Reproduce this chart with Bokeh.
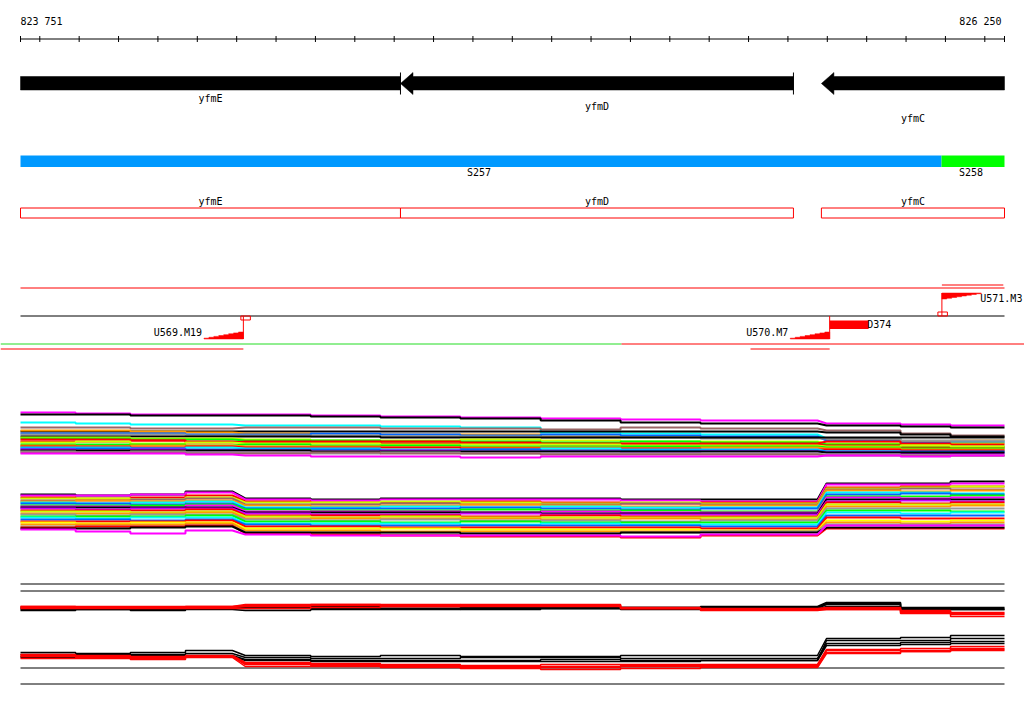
from bokeh.plotting import figure
from bokeh.models import Range1d, ColumnDataSource
from bokeh.core.properties import value
from bokeh.embed import file_html
from bokeh.resources import INLINE

# ------------------------------------------------------------------ data
VIEW_START = 823751
VIEW_END = 826250
ruler_labels = ["823 751", "826 250"]

gene_names = ["yfmE", "yfmD", "yfmC"]
gene_starts = [823200, 824716, 825785]
gene_ends = [824716, 825714, 826700]
gene_strands = ["-", "-", "-"]

segment_names = ["S257", "S258"]
segment_starts = [823300, 826090]
segment_ends = [826090, 826700]
segment_colors = ["#0099FF", "#00FF00"]

feature_names = ["U569.M19", "U570.M7", "U571.M3"]
feature_pos = [824317, 825806, 826091]
feature_strands = ["+", "+", "-"]
feature_has_box = [True, False, True]
feature_extent_start = [823500, 825605, 826091]
feature_extent_end = [824317, 825806, 826247]

deletion_names = ["D374"]
deletion_starts = [825806]
deletion_ends = [825905]

# probe segments used by the expression tracks
probe_starts = [823751, 823891, 824030, 824170, 824322, 824488, 824665,
                824868, 825072, 825275, 825478, 825798, 825986, 826113]
probe_ends = [823891, 824030, 824170, 824289, 824488, 824665, 824868,
              825072, 825275, 825478, 825775, 825986, 826113, 826250]

# track 1 (signal levels)
t1_01 = [48, 47, 46, 46, 46, 45, 44, 43, 42, 41, 40, 37, 36, 35]
t1_02 = [46, 46, 45, 45, 45, 44, 43, 42, 40, 38, 37, 35, 34, 33]
t1_03 = [38, 37, 36, 36, 35, 35, 34, 33, 28, 27, 26, 22, 19, 19]
t1_04 = [33, 33, 32, 32, 33, 33, 32, 32, 31, 33, 32, 30, 27, 25]
t1_05 = [29, 29, 29, 29, 29, 29, 29, 29, 29, 29, 29, 28, 26, 24]
t1_06 = [30, 30, 29, 28, 27, 27, 26, 26, 24, 24, 23, 21, 19, 20]
t1_07 = [27, 27, 27, 26, 26, 27, 26, 25, 26, 25, 24, 20, 18, 18]
t1_08 = [26, 26, 26, 25, 25, 24, 24, 24, 23, 23, 22, 22, 20, 20]
t1_09 = [24, 24, 24, 24, 24, 24, 23, 23, 23, 23, 23, 23, 23, 23]
t1_10 = [23, 23, 22, 22, 21, 20, 20, 21, 20, 19, 19, 17, 16, 17]
t1_11 = [22, 22, 21, 21, 20, 20, 19, 19, 18, 19, 18, 16, 14, 14]
t1_12 = [21, 21, 20, 19, 18, 19, 17, 17, 16, 16, 17, 19, 17, 16]
t1_13 = [19, 19, 20, 18, 19, 18, 19, 18, 17, 17, 16, 15, 13, 13]
t1_14 = [18, 19, 17, 18, 17, 17, 16, 16, 16, 15, 15, 14, 15, 14]
t1_15 = [16, 16, 16, 15, 16, 15, 15, 14, 14, 14, 14, 13, 12, 12]
t1_16 = [15, 14, 15, 15, 14, 14, 13, 13, 13, 12, 13, 12, 11, 11]
t1_17 = [14, 14, 13, 14, 13, 13, 13, 12, 12, 12, 11, 11, 10, 10]
t1_18 = [13, 13, 12, 13, 12, 12, 11, 11, 12, 11, 11, 9, 8, 8]
t1_19 = [12, 12, 12, 11, 11, 11, 10, 11, 10, 10, 10, 9, 9, 9]
t1_20 = [11, 10, 11, 10, 10, 9, 10, 9, 9, 8, 9, 8, 7, 7]
t1_21 = [10, 10, 10, 10, 10, 9, 9, 9, 9, 9, 9, 8, 8, 8]
t1_22 = [9, 8, 9, 8, 8, 7, 8, 7, 7, 7, 7, 6, 5, 5]
t1_23 = [8, 8, 8, 7, 7, 8, 7, 7, 6, 6, 6, 5, 5, 5]
t1_24 = [7, 7, 7, 6, 5, 4, 4, 3, 4, 4, 4, 5, 4, 5]
track1_series = [t1_01, t1_02, t1_03, t1_04, t1_05, t1_06, t1_07, t1_08,
                 t1_09, t1_10, t1_11, t1_12, t1_13, t1_14, t1_15, t1_16,
                 t1_17, t1_18, t1_19, t1_20, t1_21, t1_22, t1_23, t1_24]
track1_colors = ["#FF00FF", "#000000", "#00FFFF", "#996666", "#000000",
                 "#FF9900", "#0066FF", "#999999", "#000000", "#CCFF00",
                 "#00FF00", "#FF0000", "#FF0000", "#CCFF00", "#00FF00",
                 "#FF9900", "#FF0000", "#00FFFF", "#0066FF", "#CC00FF",
                 "#000000", "#999999", "#996666", "#FF00FF"]

# track 2 (signal levels)
t2_01 = [46, 45, 46, 49, 42, 41, 42, 42, 42, 41, 41, 57, 57, 59]
t2_02 = [45, 45, 46, 48, 41, 40, 41, 41, 41, 40, 39, 56, 56, 57]
t2_03 = [43, 42, 43, 45, 39, 38, 38, 39, 38, 37, 38, 53, 54, 54]
t2_04 = [42, 42, 41, 43, 38, 38, 39, 38, 37, 38, 37, 52, 53, 54]
t2_05 = [40, 40, 41, 42, 36, 36, 37, 36, 36, 37, 36, 51, 52, 51]
t2_06 = [39, 40, 39, 40, 35, 34, 35, 36, 35, 34, 35, 50, 49, 50]
t2_07 = [38, 37, 38, 39, 33, 33, 34, 33, 34, 33, 33, 48, 48, 47]
t2_08 = [37, 37, 36, 37, 32, 32, 32, 33, 32, 31, 32, 46, 47, 46]
t2_09 = [35, 35, 35, 36, 31, 30, 30, 31, 30, 30, 29, 44, 44, 45]
t2_10 = [34, 34, 33, 35, 29, 29, 29, 28, 29, 28, 28, 43, 42, 43]
t2_11 = [33, 33, 33, 33, 28, 28, 28, 28, 27, 27, 27, 41, 41, 41]
t2_12 = [32, 31, 32, 32, 27, 26, 26, 27, 26, 26, 26, 39, 40, 39]
t2_13 = [30, 30, 30, 31, 25, 25, 25, 24, 25, 24, 24, 38, 37, 38]
t2_14 = [29, 29, 28, 29, 24, 23, 24, 23, 23, 23, 23, 36, 36, 36]
t2_15 = [27, 27, 27, 28, 22, 22, 22, 22, 21, 22, 21, 34, 34, 35]
t2_16 = [26, 25, 26, 26, 21, 20, 21, 20, 20, 19, 20, 32, 32, 32]
t2_17 = [24, 24, 24, 25, 19, 19, 18, 19, 18, 18, 18, 30, 30, 29]
t2_18 = [23, 22, 23, 23, 17, 17, 17, 16, 17, 16, 16, 28, 27, 28]
t2_19 = [21, 21, 20, 21, 16, 15, 15, 15, 15, 15, 14, 25, 25, 25]
t2_20 = [19, 19, 19, 20, 14, 14, 13, 13, 13, 13, 12, 23, 22, 22]
t2_21 = [18, 17, 18, 18, 12, 12, 12, 11, 11, 11, 10, 20, 19, 20]
t2_22 = [16, 16, 16, 17, 10, 10, 9, 9, 9, 9, 9, 18, 17, 18]
t2_23 = [14, 14, 14, 15, 8, 7, 6, 7, 7, 8, 9, 16, 16, 16]
t2_24 = [13, 14, 14, 15, 7, 6, 5, 4, 4, 3, 5, 12, 12, 12]
t2_25 = [12, 12, 13, 14, 8, 8, 8, 7, 7, 8, 8, 13, 13, 13]
t2_26 = [11, 9, 7, 10, 6, 5, 5, 5, 5, 4, 6, 15, 15, 15]
track2_series = [t2_01, t2_02, t2_03, t2_04, t2_05, t2_06, t2_07, t2_08,
                 t2_09, t2_10, t2_11, t2_12, t2_13, t2_14, t2_15, t2_16,
                 t2_17, t2_18, t2_19, t2_20, t2_21, t2_22, t2_23, t2_24,
                 t2_25, t2_26]
track2_colors = ["#000000", "#FF00FF", "#FF0000", "#CCFF00", "#996666",
                 "#FF9900", "#00FFFF", "#0066FF", "#00FF00", "#FF00FF",
                 "#000000", "#CC00FF", "#FF0000", "#CCFF00", "#FF9900",
                 "#999999", "#00FF00", "#00FFFF", "#0066FF", "#FF0000",
                 "#FFFF00", "#FF9900", "#999999", "#FF0000", "#000000",
                 "#FF00FF"]

# track 3 (two groups: black and red series)
t3_black_1 = [76, 76, 76, 76, 78, 78, 77, 77, 76, 76, 77, 81, 76, 76]
t3_black_2 = [75, 75, 75, 75, 76, 77, 77, 76, 75, 76, 76, 80, 75, 75]
t3_black_3 = [74, 74, 74, 75, 75, 75, 75, 74, 75, 75, 75, 79, 75, 74]
t3_black_4 = [73, 74, 73, 74, 73, 74, 74, 75, 75, 74, 74, 77, 74, 74]
t3_red_1 = [77, 77, 77, 77, 79, 79, 78, 79, 79, 76, 75, 76, 73, 71]
t3_red_2 = [76, 76, 76, 77, 78, 79, 77, 78, 78, 75, 74, 75, 71, 69]
t3_red_3 = [75, 75, 75, 75, 75, 76, 77, 77, 77, 75, 74, 74, 70, 67]
t3_red_4 = [77, 76, 76, 76, 77, 78, 79, 78, 78, 75, 73, 74, 72, 70]
t3_black_5 = [31, 30, 31, 33, 28, 27, 28, 27, 27, 28, 28, 45, 46, 48]
t3_black_6 = [29, 29, 29, 30, 26, 25, 25, 26, 26, 25, 25, 40, 41, 42]
t3_black_7 = [27, 28, 28, 28, 24, 23, 23, 23, 24, 23, 23, 38, 39, 40]
t3_black_8 = [26, 26, 27, 27, 23, 22, 22, 22, 22, 22, 23, 43, 43, 45]
t3_red_5 = [29, 28, 27, 28, 21, 20, 19, 18, 19, 19, 19, 34, 35, 37]
t3_red_6 = [27, 26, 25, 27, 19, 18, 18, 17, 17, 18, 18, 33, 33, 35]
t3_red_7 = [25, 25, 24, 26, 17, 17, 16, 16, 16, 17, 16, 30, 32, 33]
t3_red_8 = [28, 27, 26, 27, 20, 19, 17, 15, 14, 15, 17, 31, 32, 34]
track3_black = [t3_black_1, t3_black_2, t3_black_3, t3_black_4,
                t3_black_5, t3_black_6, t3_black_7, t3_black_8]
track3_red = [t3_red_1, t3_red_2, t3_red_3, t3_red_4,
              t3_red_5, t3_red_6, t3_red_7, t3_red_8]
track3_reference_levels = [100, 93, 16, 0]

# ------------------------------------------------------------------ layout
PX_LEFT, PX_RIGHT = 20, 1004          # page pixels of the view ends
FIG_W, FIG_H, MARGIN = 1024, 706, 0
BP_PER_PX = (VIEW_END - VIEW_START) / (PX_RIGHT - PX_LEFT)
x0 = VIEW_START - (PX_LEFT - MARGIN) * BP_PER_PX
x1 = x0 + FIG_W * BP_PER_PX

FONT = value("DejaVu Sans Mono")
FS = "10px"

p = figure(width=FIG_W, height=FIG_H,
           x_range=Range1d(x0, x1), y_range=Range1d(MARGIN + FIG_H, MARGIN),
           output_backend="svg", toolbar_location=None, min_border=0,
           x_axis_location=None, y_axis_location=None,
           outline_line_color=None, background_fill_color="white",
           border_fill_color="white")
p.xgrid.visible = False
p.ygrid.visible = False


def clip(a, b):
    return max(a, VIEW_START), min(b, VIEW_END)


def txt(xs, ys, texts, align="center", color="black"):
    p.text(x=xs, y=ys, text=texts, text_font=FONT, text_font_size=FS,
           text_align=align, text_baseline="middle", text_color=color)


# ruler
RULER_Y = 38.5
p.segment(x0=[VIEW_START], y0=[RULER_Y], x1=[VIEW_END], y1=[RULER_Y],
          line_color="black", line_width=1)
tick_pos = [VIEW_START] + [t for t in range(((VIEW_START // 100) + 1) * 100, VIEW_END, 100)] + [VIEW_END]
p.segment(x0=tick_pos, y0=[RULER_Y - 3] * len(tick_pos), x1=tick_pos,
          y1=[RULER_Y + 3] * len(tick_pos), line_color="black", line_width=1)
txt([VIEW_START], [20.5], [ruler_labels[0]], align="left")
txt([VIEW_END - 3 * BP_PER_PX], [20.5], [ruler_labels[1]], align="right")

# gene arrows
BAR_T, BAR_B, HEAD_T, HEAD_B = 76, 89.5, 72, 94
HEAD_LEN = 12.5 * BP_PER_PX
label_rows = [98, 106, 118]
xs_g, ys_g = [], []
for name, s, e, strand, ly in zip(gene_names, gene_starts, gene_ends, gene_strands, label_rows):
    cs, ce = clip(s, e)
    mid_y = (HEAD_T + HEAD_B) / 2
    if strand == "-" and s >= VIEW_START:
        hx = s + HEAD_LEN
        xs_g.append([s, hx, hx, ce, ce, hx, hx])
        ys_g.append([mid_y, HEAD_T, BAR_T, BAR_T, BAR_B, BAR_B, HEAD_B])
    else:
        xs_g.append([cs, ce, ce, cs])
        ys_g.append([BAR_T, BAR_T, BAR_B, BAR_B])
    if e <= VIEW_END:
        p.segment(x0=[e], y0=[HEAD_T], x1=[e], y1=[HEAD_B], line_color="black", line_width=1)
    txt([(cs + ce) / 2], [ly], [name])
p.patches(xs=xs_g, ys=ys_g, fill_color="black", line_color="black", line_width=0.5)

# segments
for name, s, e, c in zip(segment_names, segment_starts, segment_ends, segment_colors):
    cs, ce = clip(s, e)
    p.quad(left=[cs], right=[ce], top=[155], bottom=[166.5], fill_color=c, line_color=None)
    txt([(cs + ce) / 2 - 2 * BP_PER_PX], [172], [name])

# gene boxes
for name, s, e in zip(gene_names, gene_starts, gene_ends):
    cs, ce = clip(s, e)
    p.quad(left=[cs], right=[ce], top=[207.5], bottom=[217.5], fill_color=None,
           line_color="#FF0000", line_width=1)
    txt([(cs + ce) / 2], [200.5], [name])

# feature track
TOP_LINE, MID_LINE, SEP_LINE = 287.5, 315.5, 343.5
p.segment(x0=[VIEW_START], y0=[TOP_LINE], x1=[VIEW_END], y1=[TOP_LINE], line_color="#FF0000", line_width=1)
p.segment(x0=[VIEW_START], y0=[MID_LINE], x1=[VIEW_END], y1=[MID_LINE], line_color="black", line_width=1)
sep_split = VIEW_START + (621 - PX_LEFT) * BP_PER_PX
p.segment(x0=[x0], y0=[SEP_LINE], x1=[sep_split], y1=[SEP_LINE], line_color="#22DD22", line_width=1)
p.segment(x0=[sep_split], y0=[SEP_LINE], x1=[x1], y1=[SEP_LINE], line_color="#FF0000", line_width=1)

RAMP_LEN = 100
STEPS = 8
for name, pos, strand, box, es, ee in zip(feature_names, feature_pos, feature_strands,
                                          feature_has_box, feature_extent_start, feature_extent_end):
    if strand == "+":
        base = 338.5
        r0 = pos - RAMP_LEN
        rx, ry = [r0], [base]
        for k in range(STEPS):
            h = (k + 1) * 7.0 / STEPS
            rx += [r0 + k * RAMP_LEN / STEPS, r0 + (k + 1) * RAMP_LEN / STEPS]
            ry += [base - h, base - h]
        rx += [pos]
        ry += [base]
        p.segment(x0=[pos], y0=[MID_LINE], x1=[pos], y1=[base], line_color="#FF0000", line_width=1)
        if box:
            p.quad(left=[pos - 2.5 * BP_PER_PX], right=[pos + 7 * BP_PER_PX], top=[MID_LINE], bottom=[MID_LINE + 4],
                   fill_color=None, line_color="#FF0000", line_width=1)
        txt([r0 - 2 * BP_PER_PX], [331.5], [name], align="right")
        ext_y = 348.5
    else:
        top = 292.5
        r1 = pos + RAMP_LEN
        rx, ry = [pos], [top]
        for k in range(STEPS):
            h = (STEPS - k) * 6.0 / STEPS
            rx += [pos + k * RAMP_LEN / STEPS, pos + (k + 1) * RAMP_LEN / STEPS]
            ry += [top + h, top + h]
        rx += [r1]
        ry += [top]
        p.segment(x0=[pos], y0=[MID_LINE], x1=[pos], y1=[top], line_color="#FF0000", line_width=1)
        if box:
            p.quad(left=[pos - 4 * BP_PER_PX], right=[pos + 5.5 * BP_PER_PX], top=[MID_LINE - 4], bottom=[MID_LINE],
                   fill_color=None, line_color="#FF0000", line_width=1)
        txt([r1 - 1 * BP_PER_PX], [297.5], [name], align="left")
        ext_y = 284.5
    p.patch(x=rx, y=ry, fill_color="#FF0000", line_color="#FF0000", line_width=0.5)
    es_c = max(es, x0)
    p.segment(x0=[es_c], y0=[ext_y], x1=[ee], y1=[ext_y], line_color="#FF0000", line_width=1)

for name, s, e in zip(deletion_names, deletion_starts, deletion_ends):
    p.quad(left=[s], right=[e], top=[320], bottom=[328.5], fill_color="#FF0000", line_color=None)
    txt([e - 1.5 * BP_PER_PX], [324], [name], align="left")


# expression tracks
def step_path(vals, base_y):
    xs, ys = [], []
    for s, e, v in zip(probe_starts, probe_ends, vals):
        xs += [s, e]
        ys += [base_y - v, base_y - v]
    return xs, ys


def draw_track(series, colors, base_y, width):
    xs, ys = [], []
    for vals in series:
        a, b = step_path(vals, base_y)
        xs.append(a)
        ys.append(b)
    src = ColumnDataSource(dict(xs=xs, ys=ys, color=colors))
    p.multi_line(xs="xs", ys="ys", line_color="color", line_width=width, source=src)


draw_track(track1_series, track1_colors, 460, 2)
draw_track(track2_series, track2_colors, 540, 2)

T3_BASE = 683
for lvl in track3_reference_levels:
    p.segment(x0=[VIEW_START], y0=[T3_BASE - lvl + 0.5], x1=[VIEW_END], y1=[T3_BASE - lvl + 0.5],
              line_color="black", line_width=1)
draw_track(track3_black, ["#000000"] * len(track3_black), T3_BASE, 1.5)
draw_track(track3_red, ["#FF0000"] * len(track3_red), T3_BASE, 1.5)

open("out.html", "w").write(file_html(p, INLINE))
